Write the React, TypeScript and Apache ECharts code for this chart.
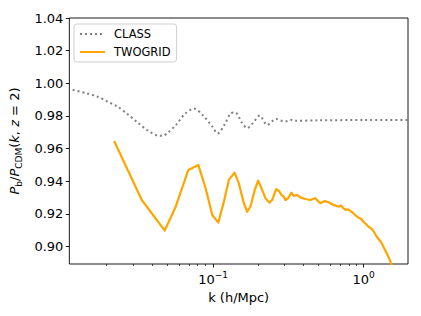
import React, { useEffect, useRef } from "react";
import * as echarts from "echarts";

const K_CLASS = [0.01168, 0.01431, 0.01692, 0.01993, 0.02342, 0.02703, 0.03148, 0.03628, 0.04271, 0.04609, 0.0502, 0.05731, 0.06475, 0.07459, 0.0861, 0.0988, 0.1071, 0.1197, 0.1306, 0.1403, 0.1551, 0.1685, 0.1835, 0.2041, 0.2285, 0.2622, 0.2799, 0.3021, 0.3261, 0.352, 0.5, 1.0, 2.0];
const P_CLASS = [0.996, 0.994, 0.9919, 0.9888, 0.9854, 0.9811, 0.976, 0.9715, 0.968, 0.9678, 0.9698, 0.975, 0.9811, 0.9845, 0.9802, 0.9735, 0.9692, 0.975, 0.9815, 0.9821, 0.976, 0.9725, 0.9756, 0.9802, 0.9745, 0.9782, 0.9772, 0.9766, 0.9776, 0.977, 0.9773, 0.9775, 0.9775];

const K_TWO = [0.02203, 0.03361, 0.04773, 0.05644, 0.06853, 0.0798, 0.0892, 0.0988, 0.1082, 0.1179, 0.1273, 0.1388, 0.1482, 0.16, 0.1685, 0.1771, 0.1892, 0.1992, 0.2117, 0.2227, 0.2366, 0.2466, 0.2622, 0.2729, 0.2843, 0.2944, 0.3021, 0.3148, 0.3311, 0.3428, 0.361, 0.3798, 0.41, 0.4424, 0.4773, 0.5151, 0.5501, 0.5848, 0.631, 0.681, 0.705, 0.7348, 0.7623, 0.79, 0.814, 0.845, 0.8784, 0.9239, 0.96, 0.997, 1.035, 1.076, 1.12, 1.161, 1.223, 1.306, 1.388, 1.46, 1.521, 1.592];
const P_TWO = [0.9647, 0.9285, 0.9098, 0.9244, 0.9469, 0.95, 0.9357, 0.9193, 0.9146, 0.9275, 0.9408, 0.9453, 0.9388, 0.9265, 0.9213, 0.9244, 0.9347, 0.9404, 0.9347, 0.9296, 0.9269, 0.9285, 0.9351, 0.9342, 0.9316, 0.9306, 0.9285, 0.9296, 0.933, 0.931, 0.9316, 0.9301, 0.9291, 0.9285, 0.9296, 0.9265, 0.9279, 0.9271, 0.9255, 0.9244, 0.9252, 0.9234, 0.9224, 0.9228, 0.9218, 0.9208, 0.9193, 0.9177, 0.917, 0.9152, 0.9138, 0.9121, 0.9112, 0.9095, 0.906, 0.9026, 0.8979, 0.8937, 0.8897, 0.885];

const X_MAJOR = [0.1, 1];
const X_MINOR = [0.02, 0.03, 0.04, 0.05, 0.06, 0.07, 0.08, 0.09, 0.2, 0.3, 0.4, 0.5, 0.6, 0.7, 0.8, 0.9, 2];
const Y_TICKS = [0.9, 0.92, 0.94, 0.96, 0.98, 1.0, 1.02, 1.04];

const X_MIN = 0.0111;
const X_MAX = 1.97;
const Y_MIN = 0.8893;
const Y_MAX = 1.04;

const FONT = "DejaVu Sans";

export default function App() {
  const ref = useRef<HTMLDivElement>(null);
  useEffect(() => {
    if (!ref.current) return;
    const chart = echarts.init(ref.current, null, { renderer: "svg" });
    const gridRect = { left: 68, right: 13, top: 18, bottom: 52 };
    const tickLine = { color: "#000", width: 0.9 };
    chart.setOption({
      animation: false,
      backgroundColor: "#fff",
      textStyle: { fontFamily: FONT },
      grid: [
        { ...gridRect, show: true, borderColor: "#000", borderWidth: 0.9, backgroundColor: "transparent" },
        { ...gridRect, show: false },
      ],
      legend: {
        orient: "vertical",
        left: 74,
        top: 24,
        padding: [4, 6, 4, 5],
        itemWidth: 25,
        itemHeight: 12,
        itemGap: 6,
        borderColor: "#cfcfcf",
        borderWidth: 1,
        borderRadius: 3,
        backgroundColor: "rgba(255,255,255,0.8)",
        itemStyle: { opacity: 0, borderWidth: 0, color: "rgba(0,0,0,0)" },
        textStyle: { fontFamily: FONT, fontSize: 11.5, color: "#000", padding: [0, 0, 0, 4] },
        data: ["CLASS", "TWOGRID"],
      },
      xAxis: [
        {
          type: "log",
          gridIndex: 0,
          min: X_MIN,
          max: X_MAX,
          axisLine: { show: false },
          splitLine: { show: false },
          axisTick: { show: true, customValues: X_MAJOR, length: 3.5, lineStyle: tickLine },
          axisLabel: {
            customValues: X_MAJOR,
            margin: 6,
            color: "#000",
            formatter: (v: number) => {
              const e = Math.round(Math.log10(v));
              return "{b|10}{s|" + (e < 0 ? "\u2212" + -e : String(e)) + "}";
            },
            rich: {
              b: { fontFamily: FONT, fontSize: 13, color: "#000", lineHeight: 16, verticalAlign: "bottom" },
              s: { fontFamily: FONT, fontSize: 9, color: "#000", lineHeight: 10, verticalAlign: "top" },
            },
          },
          name: "k (h/Mpc)",
          nameLocation: "middle",
          nameGap: 26,
          nameTextStyle: { fontFamily: FONT, fontSize: 13, color: "#000", verticalAlign: "top" },
        },
        {
          type: "log",
          gridIndex: 1,
          min: X_MIN,
          max: X_MAX,
          axisLine: { show: false },
          splitLine: { show: false },
          axisTick: { show: true, customValues: X_MINOR, length: 2, lineStyle: { color: "#000", width: 0.7 } },
          axisLabel: { show: false },
        },
      ],
      yAxis: [
        {
          type: "value",
          gridIndex: 0,
          min: Y_MIN,
          max: Y_MAX,
          axisLine: { show: false },
          splitLine: { show: false },
          axisTick: { show: true, customValues: Y_TICKS, length: 3.5, lineStyle: tickLine },
          axisLabel: {
            customValues: Y_TICKS,
            margin: 6,
            fontFamily: FONT,
            fontSize: 13,
            color: "#000",
            formatter: (v: number) => v.toFixed(2),
          },
          name: "{i|P}{s|b}{n|/}{i|P}{s|CDM}{n|(}{i|k}{n|, }{i|z}{n| = 2)}",
          nameLocation: "middle",
          nameRotate: 90,
          nameGap: 42,
          nameTextStyle: {
            fontFamily: FONT,
            fontSize: 13,
            color: "#000",
            rich: {
              i: { fontFamily: FONT, fontSize: 13, fontStyle: "italic", color: "#000", lineHeight: 18 },
              n: { fontFamily: FONT, fontSize: 13, color: "#000", lineHeight: 18 },
              s: { fontFamily: FONT, fontSize: 9, color: "#000", lineHeight: 10, verticalAlign: "bottom" },
            },
          },
        },
        { type: "value", gridIndex: 1, min: Y_MIN, max: Y_MAX, show: false },
      ],
      series: [
        {
          name: "CLASS",
          type: "line",
          xAxisIndex: 0,
          yAxisIndex: 0,
          symbol: "none",
          smooth: 0.3,
          lineStyle: { color: "#808080", width: 2, type: [2, 3], cap: "butt" },
          itemStyle: { color: "#808080" },
          data: K_CLASS.map((k, i) => [k, P_CLASS[i]]),
        },
        {
          name: "TWOGRID",
          type: "line",
          xAxisIndex: 0,
          yAxisIndex: 0,
          symbol: "none",
          clip: true,
          lineStyle: { color: "#FFA500", width: 2.2, join: "round" },
          itemStyle: { color: "#FFA500" },
          data: K_TWO.map((k, i) => [k, P_TWO[i]]),
        },
      ],
    });
    return () => chart.dispose();
  }, []);
  return (
    <div
      ref={ref}
      style={{ position: "fixed", left: 0, top: 0, width: 421, height: 316, background: "#fff" }}
    />
  );
}
